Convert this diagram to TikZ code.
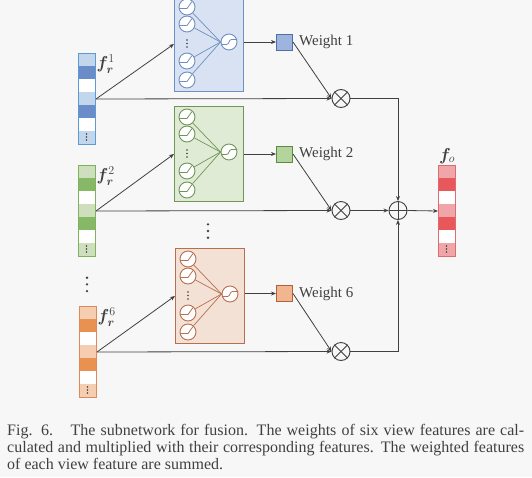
\documentclass[tikz,border=0pt]{standalone}
\usepackage{amsmath,bm}
\usepackage{fontspec}
\setmainfont{Liberation Serif}
\usetikzlibrary{arrows.meta}
\definecolor{bgc}{HTML}{F7F7F7}
\definecolor{lnc}{HTML}{404040}
% blue
\definecolor{bL}{HTML}{C3D7EC}\definecolor{bD}{HTML}{6A8CC8}\definecolor{bV}{HTML}{5B9BD5}
\definecolor{bF}{HTML}{D9E2F2}\definecolor{bB}{HTML}{6F8FC2}\definecolor{bW}{HTML}{9DB4DE}\definecolor{bWB}{HTML}{4E6FA8}
% green
\definecolor{gL}{HTML}{CDDFBD}\definecolor{gD}{HTML}{86B865}\definecolor{gV}{HTML}{7FB15E}
\definecolor{gF}{HTML}{E0EBD6}\definecolor{gB}{HTML}{6F9658}\definecolor{gW}{HTML}{B3D59D}\definecolor{gWB}{HTML}{5E8A45}
% orange
\definecolor{oL}{HTML}{F5CDB1}\definecolor{oD}{HTML}{E99150}\definecolor{oV}{HTML}{DD8A56}
\definecolor{oF}{HTML}{F3E1D6}\definecolor{oB}{HTML}{B86F4E}\definecolor{oW}{HTML}{F1B690}\definecolor{oWB}{HTML}{B0613E}
% red
\definecolor{rL}{HTML}{F0A6A9}\definecolor{rD}{HTML}{E8585B}\definecolor{rV}{HTML}{DE6A72}

\tikzset{
  arr/.style={draw=lnc, line width=0.8pt, -{Stealth[length=5pt,width=4pt]}},
  conn/.style={draw=lnc, line width=0.8pt},
  vecframe/.style={line width=1pt, minimum width=17pt, minimum height=91pt, inner sep=0pt, anchor=north west},
  nnframe/.style={line width=0.9pt, minimum width=69pt, minimum height=95pt, inner sep=0pt, anchor=north west},
  neuron/.style={circle, line width=0.9pt, fill=white, minimum size=16pt, inner sep=0pt},
  wsq/.style={line width=1pt, minimum size=16pt, inner sep=0pt},
  opnode/.style={circle, draw=lnc, line width=0.9pt, minimum size=18pt, inner sep=0pt},
  flabel/.style={font=\fontsize{17.5}{20}\selectfont, inner sep=0.5pt, anchor=west, text=lnc},
  wlabel/.style={font=\fontsize{15}{18}\selectfont, inner sep=0pt, anchor=west},
  capline/.style={font=\fontsize{16}{17}\selectfont, inner sep=0pt, anchor=base west, text=lnc},
}

% feature vector: name, left x, top y, light, dark, border
\newcommand\featvec[6]{%
  \fill[#4] (#2,#3) rectangle ++(17,13);
  \fill[#5] (#2,#3+13) rectangle ++(17,13);
  \fill[white] (#2,#3+26) rectangle ++(17,13);
  \fill[#4] (#2,#3+39) rectangle ++(17,13);
  \fill[#5] (#2,#3+52) rectangle ++(17,13);
  \fill[white] (#2,#3+65) rectangle ++(17,13);
  \fill[#4] (#2,#3+78) rectangle ++(17,13);
  \foreach \d in {0,3,6} \fill[lnc] (#2+8.5,#3+81+\d) circle (0.9);
  \node[vecframe, draw=#6] (#1) at (#2,#3) {};
}
% relu and sigmoid glyphs
\newcommand\reluglyph[2]{\draw[#2, line width=0.8pt, shift={(#1)}] (-8,1.5) -- (0,1.5) -- (5,-5.5);}
\newcommand\sigglyph[2]{\draw[#2, line width=0.8pt, shift={(#1)}] (-8,2.5) -- (-2.5,2.5) .. controls (0.5,2.5) and (-0.5,-2.5) .. (2.5,-2.5) -- (8,-2.5);}
% neural box: name, left x, top y, fill, draw
\newcommand\nnbox[5]{%
  \node[nnframe, draw=#5, fill=#4] (#1) at (#2,#3) {};
  \node[neuron, draw=#5] (#1a) at (#2+13,#3+11) {};
  \node[neuron, draw=#5] (#1b) at (#2+13,#3+28) {};
  \node[neuron, draw=#5] (#1c) at (#2+13,#3+65) {};
  \node[neuron, draw=#5] (#1d) at (#2+13,#3+84) {};
  \node[neuron, draw=#5] (#1o) at (#2+55,#3+46) {};
  \foreach \d in {0,3.5,7} \fill[lnc] (#2+13,#3+44+\d) circle (0.8);
  \foreach \s in {a,b,c,d} {\draw[#5, line width=0.7pt] (#1\s) -- (#1o.west); \reluglyph{#1\s}{#5}}
  \sigglyph{#1o}{#5}
}

\begin{document}
\begin{tikzpicture}[x=1pt,y=-1pt]
\fill[bgc] (0,0) rectangle (532,477);
\useasboundingbox (0,0) rectangle (532,477);
\clip (0,0) rectangle (532,477);

% feature vectors
\featvec{v1}{78}{53}{bL}{bD}{bV}
\featvec{v2}{78}{165}{gL}{gD}{gV}
\featvec{v6}{79}{306}{oL}{oD}{oV}
\featvec{vo}{438}{165}{rL}{rD}{rV}

\node[flabel] (l1) at (96,64) {$\bm{f}_{\bm{r}}^{1}$};
\node[flabel] (l2) at (96,176) {$\bm{f}_{\bm{r}}^{2}$};
\node[flabel] (l6) at (97,317) {$\bm{f}_{\bm{r}}^{6}$};
\node[flabel, anchor=center] (lo) at (447,156) {$\bm{f}_{o}$};

% vertical dots between vectors and between boxes
\foreach \d in {0,6.7,13.4} {
  \fill[lnc] (87,277.7+\d) circle (1.3);
  \fill[lnc] (208,224.3+\d) circle (1.3);
}

% neural boxes
\nnbox{b1}{174}{-4}{bF}{bB}
\nnbox{b2}{174}{106}{gF}{gB}
\nnbox{b6}{175}{248}{oF}{oB}

% weight squares
\node[wsq, draw=bWB, fill=bW] (w1) at (284.5,42) {};
\node[wsq, draw=gWB, fill=gW] (w2) at (284.5,154) {};
\node[wsq, draw=oWB, fill=oW] (w6) at (284.5,293.5) {};
\node[wlabel, text=lnc] (t1) at (299,42) {Weight 1};
\node[wlabel, text=lnc] (t2) at (299,154) {Weight 2};
\node[wlabel, text=lnc] (t6) at (299,293.5) {Weight 6};

% multiply nodes
\node[opnode] (x1) at (341,98.5) {};
\node[opnode] (x2) at (341,210.5) {};
\node[opnode] (x6) at (341,351.5) {};
\foreach \n in {x1,x2,x6} {
  \draw[lnc, line width=0.8pt] (\n.north west) -- (\n.south east);
  \draw[lnc, line width=0.8pt] (\n.north east) -- (\n.south west);
}
% sum node
\node[opnode] (sp) at (398,210.5) {};
\draw[lnc, line width=0.8pt] (sp.north) -- (sp.south);
\draw[lnc, line width=0.8pt] (sp.west) -- (sp.east);

% connectors
\foreach \v/\b/\w/\x in {v1/b1/w1/x1, v2/b2/w2/x2, v6/b6/w6/x6} {
  \draw[arr] (\v.east) -- (\b.west);
  \draw[arr] (\v.east) -- (\x.west);
  \draw[arr] (\b.east |- \w) -- (\w.west);
  \draw[arr] (\w.east) -- (\x.west);
}
\draw[arr] (x1.east) -| (sp.north);
\draw[arr] (x6.east) -| (sp.south);
\draw[arr] (x2.east) -- (sp.west);
\draw[arr] (sp.east) -- (vo.west);

% caption
\node[capline] (c1) at (7,435.5) {\makebox[517pt][s]{Fig. 6.\hspace{1.1em}The subnetwork for fusion. The weights of six view features are cal-}};
\node[capline] (c2) at (7,452.5) {\makebox[517pt][s]{culated and multiplied with their corresponding features. The weighted features}};
\node[capline] (c3) at (7,469) {of each view feature are summed.};
\end{tikzpicture}
\end{document}
